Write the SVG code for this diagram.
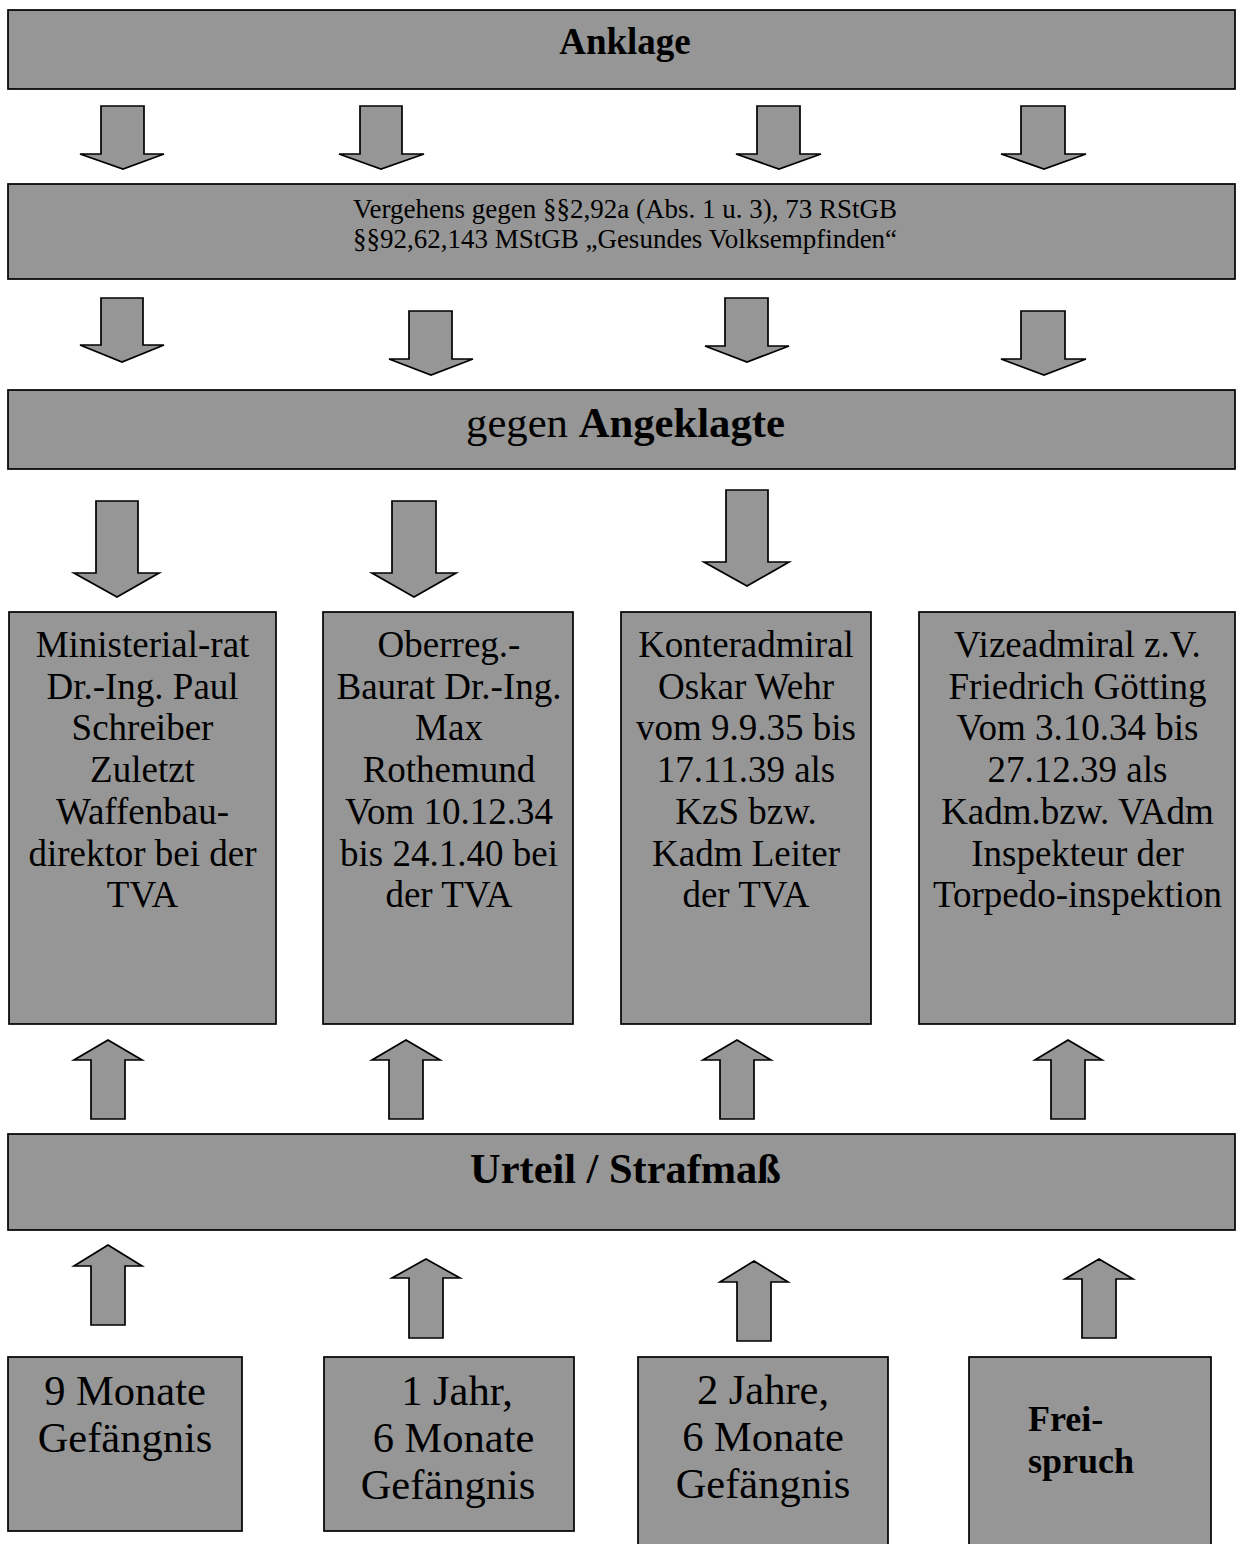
<svg xmlns="http://www.w3.org/2000/svg" width="1241" height="1544" viewBox="0 0 1241 1544">
<style>
.box{fill:#969696;stroke:#000;stroke-width:1.7}
.arr{fill:#969696;stroke:#000;stroke-width:1.7;stroke-linejoin:miter}
text{font-family:"Liberation Serif","Times New Roman",serif;fill:#000;text-anchor:middle}
.b{font-weight:bold}
.n{font-size:37px}
.m{font-size:42.5px}
</style>
<rect width="1241" height="1544" fill="#fff"/>

<g id="connectors">
  <!-- row 1: Anklage -> Vergehens -->
  <polygon class="arr" points="101,106 144,106 144,154 164,154 123,169 80,154 101,154"/>
  <polygon class="arr" points="360,106 402,106 402,154 424,154 381,169 339,154 360,154"/>
  <polygon class="arr" points="757,106 800,106 800,154 821,154 779,169 736,154 757,154"/>
  <polygon class="arr" points="1021,106 1065,106 1065,154 1086,154 1044,169 1001,154 1021,154"/>
  <!-- row 2: Vergehens -> Angeklagte -->
  <polygon class="arr" points="101,298 143,298 143,345 164,345 122,362 80,345 101,345"/>
  <polygon class="arr" points="409,311 452,311 452,359 473,359 431,375 389,359 409,359"/>
  <polygon class="arr" points="725,298 768,298 768,346 789,346 747,362 705,346 725,346"/>
  <polygon class="arr" points="1021,311 1065,311 1065,359 1086,359 1044,375 1001,359 1021,359"/>
  <!-- row 3: Angeklagte -> persons -->
  <polygon class="arr" points="96,501 138,501 138,573 159,573 117,597 74,573 96,573"/>
  <polygon class="arr" points="392,501 436,501 436,573 456,573 414,597 372,573 392,573"/>
  <polygon class="arr" points="726,490 768,490 768,562 789,562 747,586 704,562 726,562"/>
  <!-- row 4: Urteil -> persons (up) -->
  <polygon class="arr" points="108,1040 142,1060 125,1060 125,1119 91,1119 91,1060 74,1060"/>
  <polygon class="arr" points="406,1040 440,1060 423,1060 423,1119 389,1119 389,1060 372,1060"/>
  <polygon class="arr" points="737,1040 771,1060 754,1060 754,1119 720,1119 720,1060 703,1060"/>
  <polygon class="arr" points="1068,1040 1102,1060 1085,1060 1085,1119 1051,1119 1051,1060 1035,1060"/>
  <!-- row 5: sentences -> Urteil (up) -->
  <polygon class="arr" points="108,1245 142,1266 125,1266 125,1325 91,1325 91,1266 74,1266"/>
  <polygon class="arr" points="426,1259 460,1278 443,1278 443,1338 409,1338 409,1278 392,1278"/>
  <polygon class="arr" points="754,1261 788,1282 771,1282 771,1341 737,1341 737,1282 720,1282"/>
  <polygon class="arr" points="1099,1259 1133,1279 1116,1279 1116,1338 1082,1338 1082,1279 1065,1279"/>
</g>

<g id="anklage">
  <rect class="box" x="8" y="10" width="1227" height="79"/>
  <text class="b" x="625" y="54" font-size="37">Anklage</text>
</g>

<g id="vergehen">
  <rect class="box" x="8" y="184" width="1227" height="95"/>
  <text x="625" y="218" font-size="27">Vergehens gegen §§2,92a (Abs. 1 u. 3), 73 RStGB</text>
  <text x="625" y="248" font-size="27">§§92,62,143 MStGB „Gesundes Volksempfinden“</text>
</g>

<g id="angeklagte">
  <rect class="box" x="8" y="390" width="1227" height="79"/>
  <text x="625.5" y="437" font-size="42.7">gegen <tspan class="b">Angeklagte</tspan></text>
</g>

<g id="schreiber">
  <rect class="box" x="9" y="612" width="267" height="412"/>
  <text class="n" x="142.5" y="657">Ministerial-rat<tspan x="142.5" dy="41.7">Dr.-Ing. Paul</tspan><tspan x="142.5" dy="41.7">Schreiber</tspan><tspan x="142.5" dy="41.7">Zuletzt</tspan><tspan x="142.5" dy="41.7">Waffenbau-</tspan><tspan x="142.5" dy="41.7">direktor bei der</tspan><tspan x="142.5" dy="41.7">TVA</tspan></text>
</g>

<g id="rothemund">
  <rect class="box" x="323" y="612" width="250" height="412"/>
  <text class="n" x="449" y="657">Oberreg.-<tspan x="449" dy="41.7">Baurat Dr.-Ing.</tspan><tspan x="449" dy="41.7">Max</tspan><tspan x="449" dy="41.7">Rothemund</tspan><tspan x="449" dy="41.7">Vom 10.12.34</tspan><tspan x="449" dy="41.7">bis 24.1.40 bei</tspan><tspan x="449" dy="41.7">der TVA</tspan></text>
</g>

<g id="wehr">
  <rect class="box" x="621" y="612" width="250" height="412"/>
  <text class="n" x="746" y="657">Konteradmiral<tspan x="746" dy="41.7">Oskar Wehr</tspan><tspan x="746" dy="41.7">vom 9.9.35 bis</tspan><tspan x="746" dy="41.7">17.11.39 als</tspan><tspan x="746" dy="41.7">KzS bzw.</tspan><tspan x="746" dy="41.7">Kadm Leiter</tspan><tspan x="746" dy="41.7">der TVA</tspan></text>
</g>

<g id="goetting">
  <rect class="box" x="919" y="612" width="316" height="412"/>
  <text class="n" x="1077.5" y="657">Vizeadmiral z.V.<tspan x="1077.5" dy="41.7">Friedrich Götting</tspan><tspan x="1077.5" dy="41.7">Vom 3.10.34 bis</tspan><tspan x="1077.5" dy="41.7">27.12.39 als</tspan><tspan x="1077.5" dy="41.7">Kadm.bzw. VAdm</tspan><tspan x="1077.5" dy="41.7">Inspekteur der</tspan><tspan x="1077.5" dy="41.7">Torpedo-inspektion</tspan></text>
</g>

<g id="urteil">
  <rect class="box" x="8" y="1134" width="1227" height="96"/>
  <text class="b" x="625.5" y="1183" font-size="42.4">Urteil / Strafmaß</text>
</g>

<g id="s1">
  <rect class="box" x="8" y="1357" width="234" height="174"/>
  <text class="m" x="125" y="1405">9 Monate<tspan x="125" dy="47">Gefängnis</tspan></text>
</g>

<g id="s2">
  <rect class="box" x="324" y="1357" width="250" height="174"/>
  <text class="m" x="457" y="1405">1 Jahr,</text>
  <text class="m" x="453.5" y="1452">6 Monate</text>
  <text class="m" x="448" y="1499">Gefängnis</text>
</g>

<g id="s3">
  <rect class="box" x="638" y="1357" width="250" height="200"/>
  <text class="m" x="763" y="1404">2 Jahre,<tspan x="763" dy="47">6 Monate</tspan><tspan x="763" dy="47">Gefängnis</tspan></text>
</g>

<g id="s4">
  <rect class="box" x="969" y="1357" width="242" height="200"/>
  <text class="b" x="1028" y="1431" font-size="36" style="text-anchor:start">Frei-<tspan x="1028" dy="42">spruch</tspan></text>
</g>
</svg>
